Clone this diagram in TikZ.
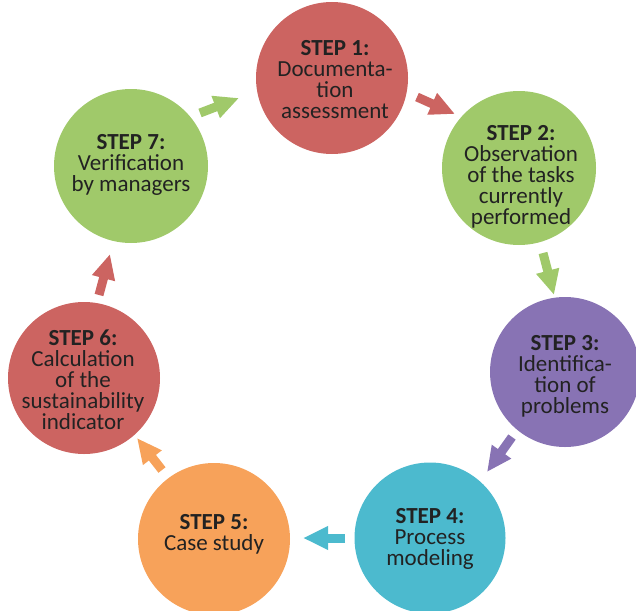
\documentclass[tikz,border=0pt]{standalone}
\usepackage{fontspec}
\setmainfont{Carlito}
\usetikzlibrary{arrows.meta}
\definecolor{stepred}{HTML}{CC6461}
\definecolor{stepgreen}{HTML}{A0C96A}
\definecolor{steppurple}{HTML}{8873B4}
\definecolor{stepaqua}{HTML}{4CBACE}
\definecolor{steporange}{HTML}{F7A25A}
\definecolor{steptextcol}{HTML}{222222}
\begin{document}
\begin{tikzpicture}[x=1pt,y=-1pt,
  stepdisk/.style={circle, draw=none, inner sep=0pt, minimum size=#1},
  steptext/.style={align=center, text=steptextcol, inner sep=0pt,
    font=\fontsize{23}{21}\selectfont},
  steparrow/.style={line width=9pt, -{Triangle[width=22pt,length=25pt]}}]
\useasboundingbox (0,0) rectangle (636,610);

% cycle of step disks
\node[stepdisk=152pt, fill=stepred]    (s1) at (332,78)  {};
\node[stepdisk=154pt, fill=stepgreen]  (s2) at (519,168) {};
\node[stepdisk=150pt, fill=steppurple] (s3) at (565,372) {};
\node[stepdisk=151pt, fill=stepaqua]   (s4) at (430,538) {};
\node[stepdisk=152pt, fill=steporange] (s5) at (214,539) {};
\node[stepdisk=152pt, fill=stepred]    (s6) at (84,378)  {};
\node[stepdisk=154pt, fill=stepgreen]  (s7) at (131,166) {};

% step captions
\node[steptext] (t1) at (335,80)  {\textbf{STEP 1:}\\Documenta-\\tion\\assessment};
\node[steptext] (t2) at (521,177) {\textbf{STEP 2:}\\Observation\\of the tasks\\currently\\performed};
\node[steptext] (t3) at (565,376) {\textbf{STEP 3:}\\Identifica-\\tion of\\problems};
\node[steptext] (t4) at (430,539) {\textbf{STEP 4:}\\Process\\modeling};
\node[steptext] (t5) at (214,534) {\textbf{STEP 5:}\\Case study};
\node[steptext] (t6) at (83,380)  {\textbf{STEP 6:}\\Calculation\\of the\\sustainability\\indicator};
\node[steptext] (t7) at (131,165) {\textbf{STEP 7:}\\Verification\\by managers};

% arrow ends between neighbouring disks
\coordinate (a71) at (200,113); \coordinate (b71) at (239,98);
\coordinate (a12) at (417,97);  \coordinate (b12) at (455,114);
\coordinate (a23) at (543,253); \coordinate (b23) at (554,295);
\coordinate (a34) at (512,437); \coordinate (b34) at (487,472);
\coordinate (a45) at (345,538); \coordinate (b45) at (303,538);
\coordinate (a56) at (162,470); \coordinate (b56) at (137,438);
\coordinate (a67) at (99,295);  \coordinate (b67) at (110,254);

\draw[steparrow, stepgreen]  (a71) -- (b71);
\draw[steparrow, stepred]    (a12) -- (b12);
\draw[steparrow, stepgreen]  (a23) -- (b23);
\draw[steparrow, steppurple] (a34) -- (b34);
\draw[steparrow, stepaqua]   (a45) -- (b45);
\draw[steparrow, steporange] (a56) -- (b56);
\draw[steparrow, stepred]    (a67) -- (b67);
\end{tikzpicture}
\end{document}
